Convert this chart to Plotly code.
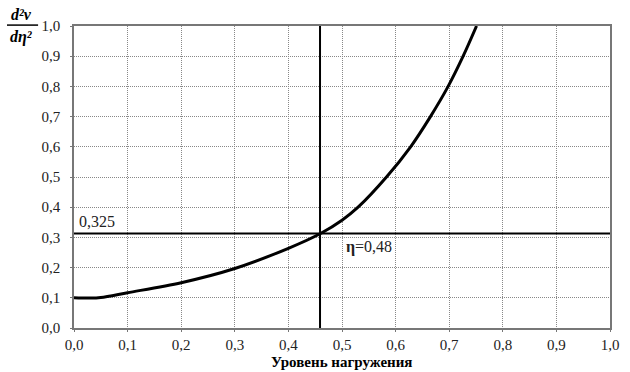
import plotly.graph_objects as go

# data
load_level = [0.0, 0.03, 0.05, 0.1, 0.2, 0.3, 0.4, 0.46, 0.5, 0.53, 0.583, 0.628, 0.665, 0.698, 0.726, 0.751]
d2v = [0.100, 0.099, 0.101, 0.117, 0.150, 0.197, 0.264, 0.313, 0.357, 0.400, 0.500, 0.600, 0.700, 0.800, 0.900, 1.000]
eta_line = 0.459
level_line = 0.313
x_ticks = [0.0, 0.1, 0.2, 0.3, 0.4, 0.5, 0.6, 0.7, 0.8, 0.9, 1.0]
x_labels = ["0,0", "0,1", "0,2", "0,3", "0,4", "0,5", "0,6", "0,7", "0,8", "0,9", "1,0"]
y_ticks = [0.0, 0.1, 0.2, 0.3, 0.4, 0.5, 0.6, 0.7, 0.8, 0.9, 1.0]
y_labels = ["0,0", "0,1", "0,2", "0,3", "0,4", "0,5", "0,6", "0,7", "0,8", "0,9", "1,0"]

font = "Liberation Serif, serif"

fig = go.Figure()
fig.add_trace(go.Scatter(x=load_level, y=d2v, mode="lines",
                         line=dict(color="black", width=3, shape="spline", smoothing=0.9),
                         showlegend=False, hoverinfo="skip"))

fig.add_shape(type="line", x0=eta_line, x1=eta_line, y0=0, y1=1, xref="x", yref="y",
              line=dict(color="black", width=2))
fig.add_shape(type="line", x0=0, x1=1, y0=level_line, y1=level_line, xref="x", yref="y",
              line=dict(color="black", width=2))

fig.add_annotation(x=0.006, y=level_line, xref="x", yref="y", text="0,325", showarrow=False,
                   xanchor="left", yanchor="bottom", yshift=1, font=dict(family=font, size=16, color="#222"))
fig.add_annotation(x=0.503, y=level_line, xref="x", yref="y", text="<b>η</b>=0,48", showarrow=False,
                   xanchor="left", yanchor="top", yshift=-3, font=dict(family=font, size=16, color="#222"))

# y-axis title as fraction
fig.add_annotation(xref="paper", yref="paper", x=-0.098, y=1.003, text="<b><i>d²ν</i></b>", showarrow=False,
                   xanchor="center", yanchor="bottom", yshift=0, font=dict(family=font, size=16, color="black"))
fig.add_annotation(xref="paper", yref="paper", x=-0.098, y=1.003, text="<b><i>dη²</i></b>", showarrow=False,
                   xanchor="center", yanchor="top", yshift=-1, font=dict(family=font, size=16, color="black"))
fig.add_shape(type="line", xref="paper", yref="paper", x0=-0.125, x1=-0.067, y0=1.003, y1=1.003,
              line=dict(color="black", width=1.5))

fig.add_annotation(xref="paper", yref="paper", x=0.499, y=-0.081, text="<b>Уровень нагружения</b>",
                   showarrow=False, xanchor="center", yanchor="top",
                   font=dict(family=font, size=15, color="black"))

axis_common = dict(showgrid=True, gridcolor="#888", griddash="1px,1px", gridwidth=1,
                   showline=True, linecolor="#777", linewidth=1.5, mirror=True,
                   ticks="outside", ticklen=2, tickcolor="#777", zeroline=False,
                   tickfont=dict(family=font, size=15, color="#222"))

fig.update_xaxes(range=[0, 1], tickvals=x_ticks, ticktext=x_labels, **axis_common)
fig.update_yaxes(range=[0, 1], tickvals=y_ticks, ticktext=y_labels, ticklabelstandoff=7, **axis_common)

fig.update_layout(width=630, height=372, margin=dict(l=74, r=11, t=26, b=44),
                  plot_bgcolor="white", paper_bgcolor="white")

fig.write_html("out.html", config={"displayModeBar": False},
               post_script="document.body.style.margin='0';document.body.style.overflow='hidden';")
